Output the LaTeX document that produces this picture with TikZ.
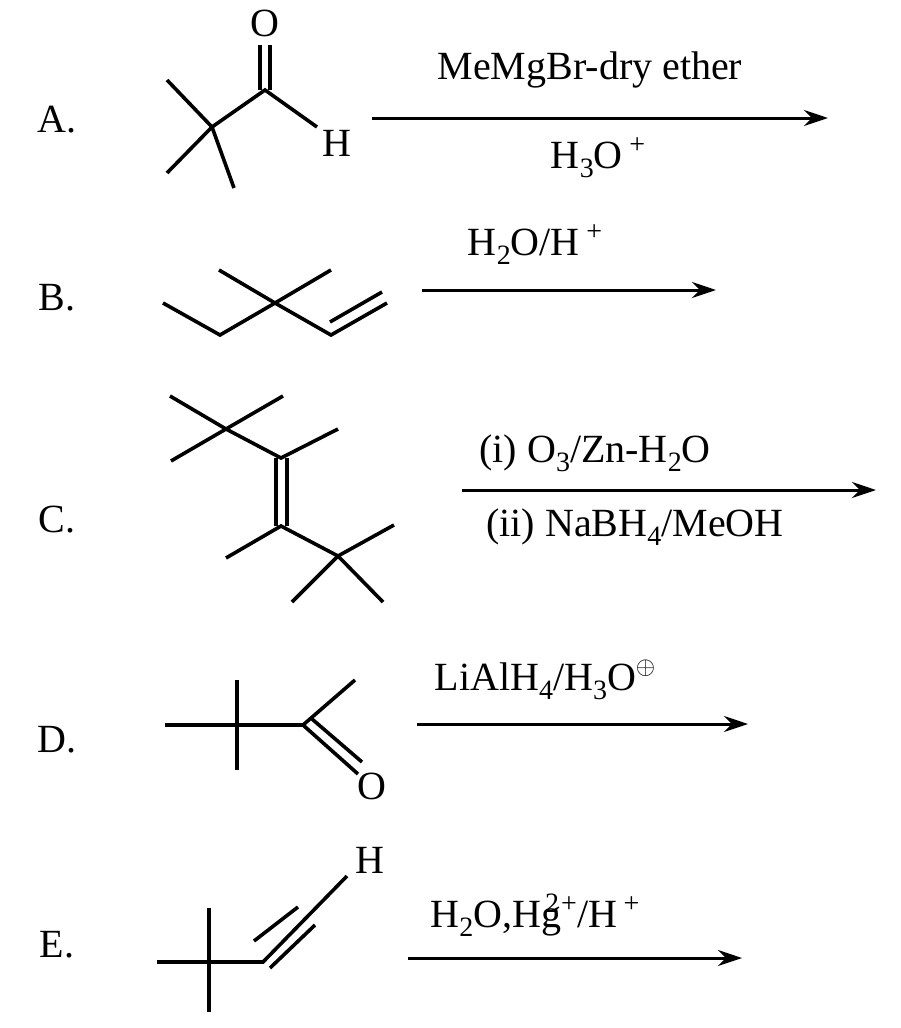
\documentclass[tikz,border=0pt]{standalone}
\usepackage{fontspec}
\setmainfont{Liberation Serif}
\usetikzlibrary{arrows.meta}
\tikzset{
  bond/.style={line width=3.6pt},
  rxn/.style={line width=3pt,-{Stealth[length=24pt,width=16pt]}},
  lbl/.style={font=\fontsize{40}{46}\selectfont,inner sep=0pt},
  atom/.style={font=\fontsize{40}{46}\selectfont,inner sep=1pt}
}
\newcommand{\dn}[1]{\raisebox{-9pt}{\fontsize{28}{28}\selectfont #1}}
\newcommand{\up}[1]{\raisebox{15pt}{\fontsize{28}{28}\selectfont #1}}
\begin{document}
\begin{tikzpicture}[x=1pt,y=-1pt]
\useasboundingbox (0,0) rectangle (900,1028);

% A
\node[lbl] (la) at (57,120) {A.};
\node[atom] (oa) at (265,23) {O};
\node[atom] (ha) at (337,143) {H};
\coordinate (qa) at (212,127);
\coordinate (ca) at (265,90);
\draw[bond] (167,80) -- (qa) -- (167,173);
\draw[bond] (qa) -- (234,188);
\draw[bond] (qa) -- (ca) -- (317,127);
\draw[bond] (260,90) -- (260,45);
\draw[bond] (270,90) -- (270,45);
\coordinate (a1) at (372,118); \coordinate (a2) at (828,118);
\draw[rxn] (a1) -- (a2);
\node[lbl] (ta) at (590,70) {MeMgBr-dry ether};
\node[lbl] (ba) at (598,158) {H\dn{3}O\,\up{+}};

% B
\node[lbl] (lb) at (57,298) {B.};
\coordinate (qb) at (275,303);
\draw[bond] (163,303) -- (220,335) -- (qb) -- (331,335) -- (387,303);
\draw[bond] (219,270) -- (qb) -- (331,270);
\draw[bond] (330,322) -- (382,292);
\coordinate (b1) at (422,290); \coordinate (b2) at (716,290);
\draw[rxn] (b1) -- (b2);
\node[lbl] (tb) at (535,245) {H\dn{2}O/H\,\up{+}};

% C
\node[lbl] (lc) at (57,520) {C.};
\coordinate (qc1) at (226,429);
\coordinate (c1) at (281,458);
\coordinate (c2) at (281,526);
\coordinate (qc2) at (338,556);
\draw[bond] (170,396) -- (qc1) -- (171,461);
\draw[bond] (283,396) -- (qc1) -- (c1) -- (338,429);
\draw[bond] (276,458) -- (276,526);
\draw[bond] (287,458) -- (287,526);
\draw[bond] (226,558) -- (c2) -- (qc2);
\draw[bond] (394,525) -- (qc2) -- (292,602);
\draw[bond] (qc2) -- (383,602);
\coordinate (c3) at (462,490); \coordinate (c4) at (876,490);
\draw[rxn] (c3) -- (c4);
\node[lbl] (tc) at (595,453) {(i) O\dn{3}/Zn-H\dn{2}O};
\node[lbl] (bc) at (635,527) {(ii) NaBH\dn{4}/MeOH};

% D
\node[lbl] (ld) at (57,740) {D.};
\node[atom] (od) at (372,786) {O};
\coordinate (qd) at (237,725);
\coordinate (cd) at (303,725);
\draw[bond] (165,725) -- (qd) -- (cd) -- (355,680);
\draw[bond] (237,680) -- (237,770);
\draw[bond] (cd) -- (358,774);
\draw[bond] (312,719) -- (362,762);
\coordinate (d1) at (417,724); \coordinate (d2) at (748,724);
\draw[rxn] (d1) -- (d2);
\node[lbl] (td) at (545,680) {LiAlH\dn{4}/H\dn{3}O\raisebox{16pt}{\fontsize{30}{30}\selectfont$\oplus$}};

% E
\node[lbl] (le) at (57,945) {E.};
\node[atom] (he) at (370,860) {H};
\coordinate (qe) at (209,962);
\coordinate (ce) at (263,962);
\draw[bond] (157,962) -- (qe) -- (ce) -- (347,876);
\draw[bond] (209,908) -- (209,1012);
\draw[bond] (254,941) -- (298,907);
\draw[bond] (270,968) -- (315,925);
\coordinate (e1) at (408,958); \coordinate (e2) at (742,958);
\draw[rxn] (e1) -- (e2);
\node[lbl] (te) at (535,915) {H\dn{2}O,Hg\llap{\up{2}\kern2pt}\up{+}/H\,\up{+}};
\end{tikzpicture}
\end{document}
